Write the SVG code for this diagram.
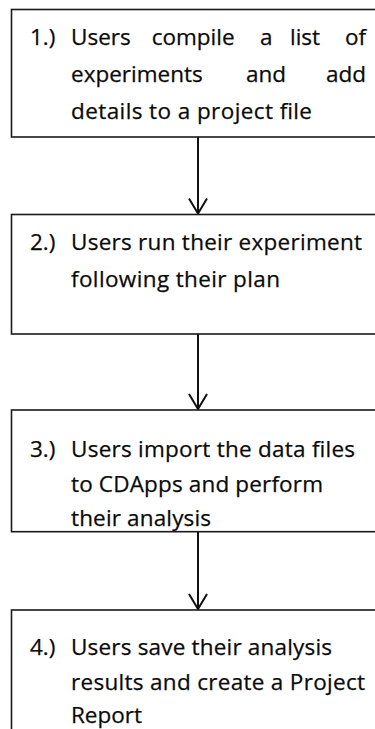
<svg xmlns="http://www.w3.org/2000/svg" width="375" height="729" viewBox="0 0 375 729">
<defs>
<style>
.box{fill:#fff;stroke:#1a1a1a;stroke-width:1.6}
.t{font-family:"Open Sans","Liberation Sans",sans-serif;font-size:22.5px;fill:#0a0a0a;stroke:#0a0a0a;stroke-width:0.25}
.c{stroke:#111;stroke-width:2;fill:none}
</style>
<marker id="ah" markerUnits="userSpaceOnUse" markerWidth="20" markerHeight="20" refX="0" refY="0" orient="auto" overflow="visible">
<path d="M-15,-9 L0,0 L-15,9" fill="none" stroke="#111" stroke-width="2"/>
</marker>
</defs>
<rect width="375" height="729" fill="#fff"/>
<g id="connectors">
<line class="c" x1="198" y1="137" x2="198" y2="213.5" marker-end="url(#ah)"/>
<line class="c" x1="198" y1="334" x2="198" y2="409" marker-end="url(#ah)"/>
<line class="c" x1="198" y1="532" x2="198" y2="609" marker-end="url(#ah)"/>
</g>
<g id="step1">
<rect class="box" x="11.5" y="9.5" width="400" height="127.5"/>
<text class="t" y="44.5"><tspan x="30">1.)</tspan><tspan x="71">Users</tspan><tspan x="151.7">compile</tspan><tspan x="260">a</tspan><tspan x="290">list</tspan><tspan x="345">of</tspan></text>
<text class="t" y="81.5"><tspan x="71">experiments</tspan><tspan x="246">and</tspan><tspan x="326">add</tspan></text>
<text class="t" x="71" y="118.5" textLength="241">details to a project file</text>
</g>
<g id="step2">
<rect class="box" x="11.5" y="214.5" width="400" height="119.5"/>
<text class="t" y="250"><tspan x="30">2.)</tspan><tspan x="71" textLength="291">Users run their experiment</tspan></text>
<text class="t" x="71" y="286.5" textLength="209">following their plan</text>
</g>
<g id="step3">
<rect class="box" x="11.5" y="410" width="400" height="121.7"/>
<text class="t" y="456.5"><tspan x="30">3.)</tspan><tspan x="71" textLength="284">Users import the data files</tspan></text>
<text class="t" x="71" y="491.5" textLength="252">to CDApps and perform</text>
<text class="t" x="71" y="525.5" textLength="140">their analysis</text>
</g>
<g id="step4">
<rect class="box" x="11.5" y="610" width="400" height="150"/>
<text class="t" y="655"><tspan x="30">4.)</tspan><tspan x="71" textLength="261">Users save their analysis</tspan></text>
<text class="t" x="71" y="690" textLength="294">results and create a Project</text>
<text class="t" x="71" y="723" textLength="71">Report</text>
</g>
</svg>
